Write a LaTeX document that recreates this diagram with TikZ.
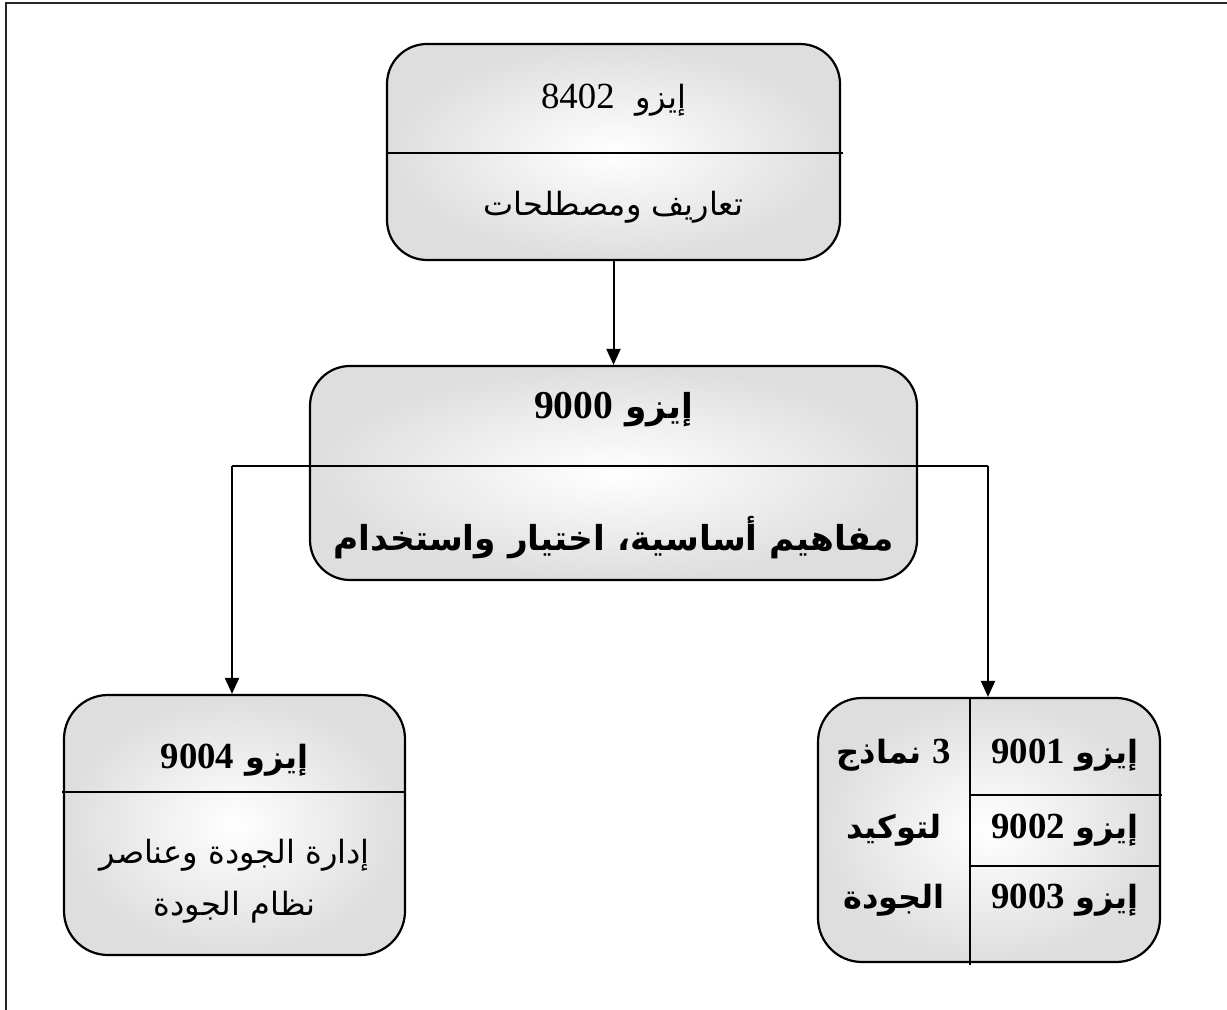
\documentclass[tikz,border=0pt]{standalone}
\usepackage{fontspec}
\setmainfont[Scale=1.15]{Liberation Serif}
\newfontfamily\arabicfont[Script=Arabic]{DejaVu Sans}
\TeXXeTstate=1
\usetikzlibrary{arrows.meta}
\newcommand{\artxt}[1]{{\arabicfont\beginR #1\endR}}
\newcommand{\num}[1]{{\rmfamily #1}}
\begin{document}
\begin{tikzpicture}[x=0.5pt,y=-0.5pt,
  box/.style={draw=black, line width=1.1pt, rounded corners=20pt, inner color=white, outer color=gray!26, inner sep=0pt},
  divline/.style={line width=0.9pt},
  conn/.style={line width=1pt},
  arr/.style={line width=1pt, -{Triangle[length=8pt,width=7pt]}},
  reg/.style={font=\fontsize{16}{20}\selectfont, inner sep=0pt},
  bld/.style={font=\fontsize{16}{20}\selectfont\bfseries, inner sep=0pt},
  bigbld/.style={font=\fontsize{17.2}{21}\selectfont\bfseries, inner sep=0pt},
  frame/.style={line width=1.1pt, draw=black!85}]
\useasboundingbox (0,0) rectangle (1227,1010);
\draw[frame] (6,1010) -- (6,3) -- (1227,3);

% boxes
\node[box, minimum width=226.5pt, minimum height=108pt] (top) at (613.5,152) {};
\node[box, minimum width=303.5pt, minimum height=107pt] (mid) at (613.5,473) {};
\node[box, rounded corners=22pt, minimum width=170.5pt, minimum height=130pt] (left) at (234.5,825) {};
\node[box, rounded corners=22pt, minimum width=171pt, minimum height=132pt] (right) at (989,830) {};

% dividers
\coordinate (td) at (387,153);
\draw[divline] (td) -- (843,153);
\draw[divline] (62,792) -- (405,792);
\coordinate (rv) at (970,698);
\draw[divline] (rv) -- (970,965);
\draw[divline] (970,795) -- (1162,795);
\draw[divline] (970,866) -- (1160,866);

% connectors
\coordinate (jl) at (232,466);
\coordinate (jr) at (988,466);
\draw[arr] (top.south) -- (mid.north);
\draw[conn] (jl) -- (jr);
\draw[arr] (jl) -- (jl |- left.north);
\draw[arr] (jr) -- (jr |- right.north);

% texts
\node[reg] (t1) at (613.5,100) {\artxt{إيزو\ \ \num{8402}}};
\node[reg] (t2) at (613.5,207) {\artxt{تعاريف ومصطلحات}};
\node[bigbld] (m1) at (613.5,410) {\artxt{إيزو \num{9000}}};
\node[bigbld] (m2) at (613.5,538) {\artxt{مفاهيم أساسية، اختيار واستخدام}};
\node[bld] (l1) at (234.5,760) {\artxt{إيزو \num{9004}}};
\node[reg] (l2) at (234.5,855) {\artxt{إدارة الجودة وعناصر}};
\node[reg] (l3) at (234.5,907) {\artxt{نظام الجودة}};
\node[bld] (r1) at (1065,755) {\artxt{إيزو \num{9001}}};
\node[bld] (r2) at (1065,830) {\artxt{إيزو \num{9002}}};
\node[bld] (r3) at (1065,900) {\artxt{إيزو \num{9003}}};
\node[bld] (q1) at (894,755) {\artxt{\num{3} نماذج}};
\node[bld] (q2) at (894,830) {\artxt{لتوكيد}};
\node[bld] (q3) at (894,900) {\artxt{الجودة}};
\end{tikzpicture}
\end{document}
